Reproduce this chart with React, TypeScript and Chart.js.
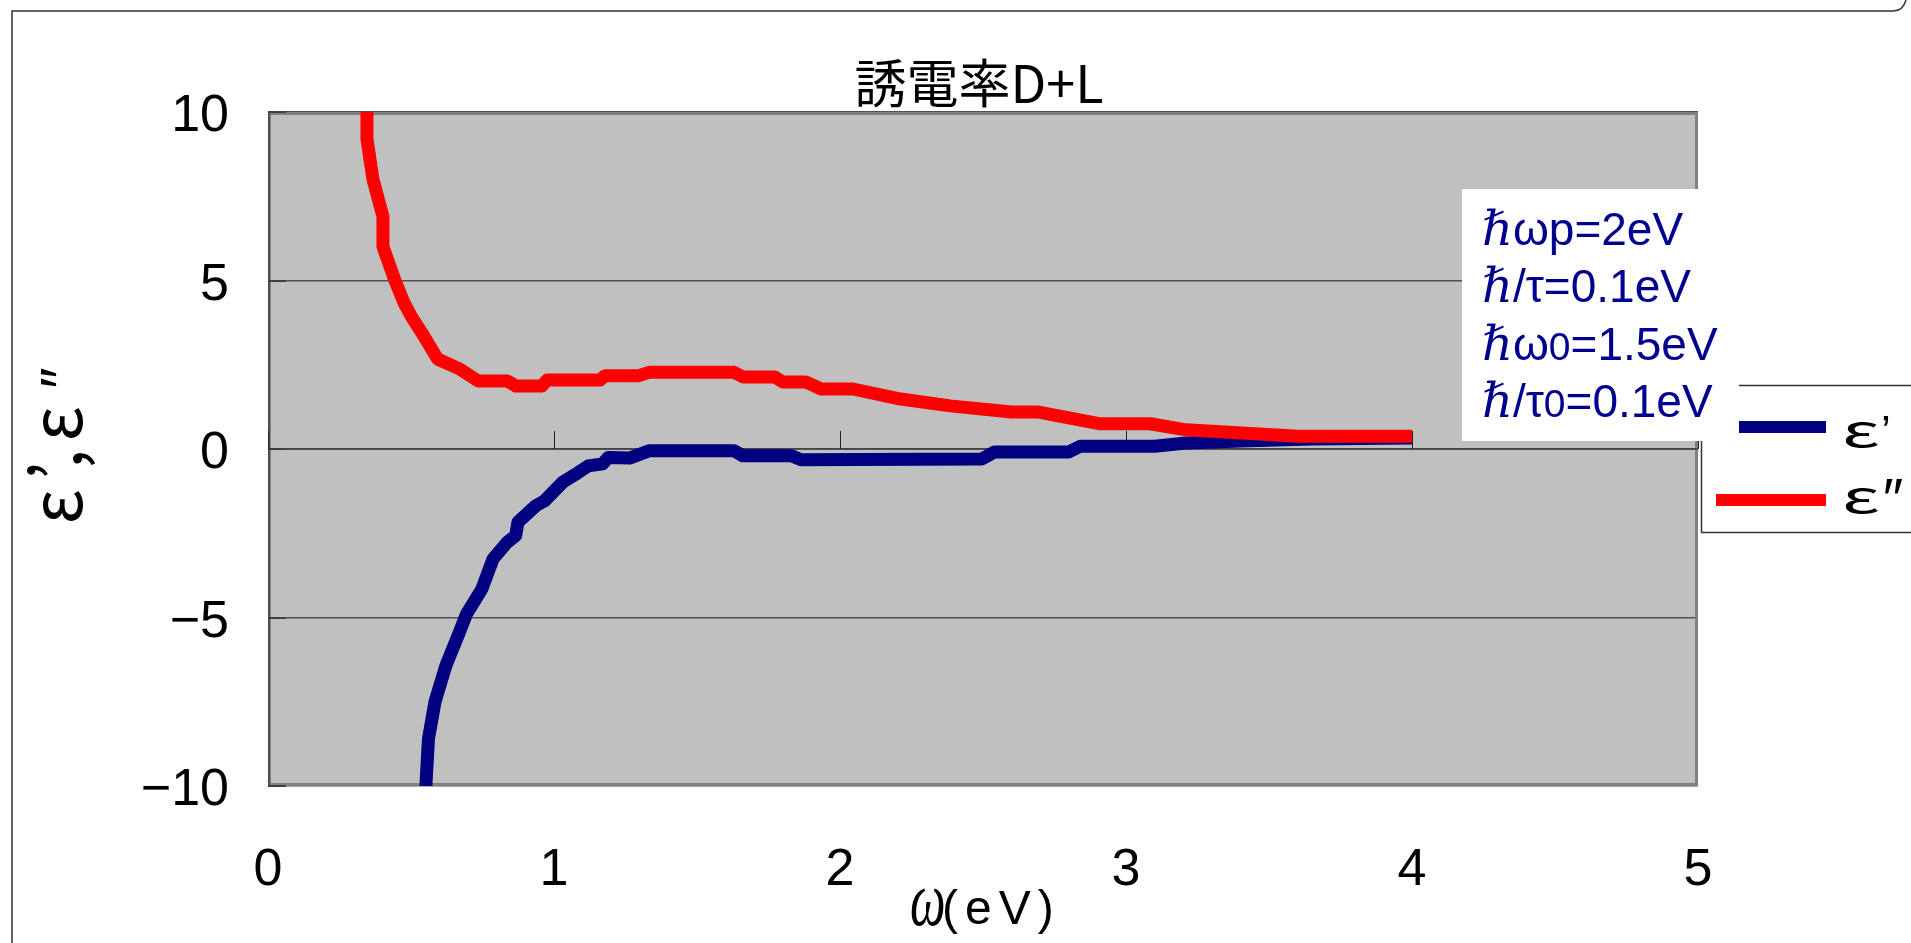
import React, { useEffect, useRef } from "react";
import { Chart, registerables } from "chart.js";

Chart.register(...registerables);

const W = 1911;
const H = 943;

const SANS = "'Liberation Sans', Arial, sans-serif";
const CJK = "'Noto Sans CJK JP', sans-serif";
const SERIF = "'Liberation Serif', 'DejaVu Serif', serif";

// ---- text ----
const chartTitle = "誘電率D+L";
const xTitleSymbol = "ω";
const xTitleUnit = "(eV)";
const yTitleParts = ["ε", "’", ",", "ε", "″"];
const legendSymbols = ["ε", "ε"];
const legendMarks = ["’", "″"];

// ---- axes ----
const xMin = 0;
const xMax = 5;
const xStep = 1;
const yMin = -10;
const yMax = 10;
const yStep = 5;

// ---- data: ε' (blue) ----
const epsRealX = [0.552, 0.561, 0.584, 0.622, 0.671, 0.694, 0.748, 0.787, 0.836, 0.866, 0.874, 0.937, 0.967, 1.03, 1.077, 1.12, 1.17, 1.19, 1.264, 1.334, 1.629, 1.66, 1.83, 1.864, 2.495, 2.54, 2.8, 2.84, 3.1, 3.21, 3.4, 3.65, 4.0];
const epsRealY = [-10, -8.6, -7.5, -6.43, -5.4, -4.9, -4.15, -3.26, -2.77, -2.57, -2.17, -1.68, -1.54, -0.99, -0.74, -0.5, -0.44, -0.25, -0.27, -0.05, -0.05, -0.2, -0.2, -0.32, -0.3, -0.09, -0.09, 0.08, 0.08, 0.18, 0.24, 0.3, 0.33];

// ---- data: ε'' (red) ----
const epsImagX = [0.346, 0.346, 0.367, 0.402, 0.402, 0.444, 0.475, 0.5, 0.545, 0.593, 0.671, 0.734, 0.836, 0.867, 0.958, 0.976, 1.161, 1.178, 1.294, 1.335, 1.629, 1.66, 1.772, 1.8, 1.88, 1.934, 2.045, 2.2, 2.385, 2.6, 2.69, 2.906, 3.084, 3.21, 3.6, 4.0];
const epsImagY = [10, 9.2, 8.0, 6.9, 6.0, 5.0, 4.35, 3.95, 3.35, 2.67, 2.37, 2.02, 2.02, 1.87, 1.87, 2.05, 2.05, 2.17, 2.17, 2.28, 2.28, 2.14, 2.14, 1.99, 1.99, 1.78, 1.78, 1.5, 1.28, 1.1, 1.1, 0.75, 0.75, 0.57, 0.38, 0.38];

// ---- parameter box (segment text, kind) ----
const paramLines: [string, string][][] = [
  [["ℏ", "h"], ["ωp=2eV", "t"]],
  [["ℏ", "h"], ["/τ=0.1eV", "t"]],
  [["ℏ", "h"], ["ω", "t"], ["0", "s"], ["=1.5eV", "t"]],
  [["ℏ", "h"], ["/τ", "t"], ["0", "s"], ["=0.1eV", "t"]],
];

const BLUE = "#000080";
const RED = "#ff0000";

const segFont: Record<string, string> = {
  h: `italic 48px ${SERIF}`,
  t: `46px ${SANS}`,
  s: `39px ${SANS}`,
};

const decor = {
  id: "decor",
  beforeDraw(chart: any) {
    const { ctx, chartArea: a } = chart;
    ctx.save();
    ctx.fillStyle = "#ffffff";
    ctx.fillRect(0, 0, W, H);
    ctx.strokeStyle = "#333333";
    ctx.lineWidth = 1.5;
    ctx.beginPath();
    ctx.moveTo(12, H);
    ctx.lineTo(12, 11);
    ctx.lineTo(1893, 11);
    ctx.quadraticCurveTo(1903, 11, 1906, 0);
    ctx.stroke();
    ctx.fillStyle = "#c0c0c0";
    ctx.fillRect(a.left, a.top, a.right - a.left, a.bottom - a.top);
    ctx.restore();
  },
  beforeDatasetsDraw(chart: any) {
    const { ctx, chartArea: a, scales } = chart;
    const xs = scales.x;
    const ys = scales.y;
    ctx.save();
    ctx.strokeStyle = "#808080";
    ctx.lineWidth = 3;
    ctx.strokeRect(a.left + 1.5, a.top + 1.5, a.right - a.left - 3, a.bottom - a.top - 3);
    ctx.strokeStyle = "#505050";
    ctx.lineWidth = 2;
    ctx.beginPath();
    ctx.moveTo(a.left + 1, a.top);
    ctx.lineTo(a.left + 1, a.bottom);
    ctx.stroke();
    ctx.strokeStyle = "#404040";
    ctx.lineWidth = 2;
    for (let v = yMin; v <= yMax; v += yStep) {
      const py = Math.round(ys.getPixelForValue(v));
      ctx.beginPath();
      ctx.moveTo(a.left, py);
      ctx.lineTo(a.left + 18, py);
      ctx.stroke();
    }
    const y0 = ys.getPixelForValue(0);
    ctx.strokeStyle = "#404040";
    ctx.lineWidth = 1.5;
    ctx.beginPath();
    ctx.moveTo(a.left, y0);
    ctx.lineTo(a.right, y0);
    ctx.stroke();
    ctx.strokeStyle = "#202020";
    ctx.lineWidth = 1;
    for (let v = xMin; v <= xMax; v += xStep) {
      const px = Math.round(xs.getPixelForValue(v)) + 0.5;
      ctx.beginPath();
      ctx.moveTo(px, y0 - 18);
      ctx.lineTo(px, y0);
      ctx.stroke();
    }
    ctx.restore();
  },
  afterDraw(chart: any) {
    const { ctx } = chart;
    ctx.save();
    ctx.fillStyle = "#000000";
    // title
    ctx.font = `52px ${CJK}`;
    ctx.textAlign = "center";
    ctx.textBaseline = "alphabetic";
    ctx.fillText(chartTitle, 979, 103);

    // x title
    ctx.textAlign = "left";
    ctx.save();
    ctx.translate(910, 925);
    ctx.scale(1.05, 1.65);
    ctx.font = `italic 48px ${SERIF}`;
    ctx.fillText(xTitleSymbol, 0, 0);
    ctx.restore();
    ctx.save();
    ctx.font = `48px ${SANS}`;
    (ctx as any).letterSpacing = "7px";
    ctx.fillText(xTitleUnit, 942, 924);
    ctx.restore();

    // y title (rotated, reading upward)
    const yPos = [507, 471, 459, 424, 381];
    ctx.save();
    ctx.translate(82, 0);
    ctx.rotate(-Math.PI / 2);
    ctx.textAlign = "center";
    yTitleParts.forEach((t, i) => {
      ctx.font = i === 4 ? `italic 60px ${SANS}` : `70px ${CJK}`;
      ctx.fillText(t, -yPos[i], 0);
    });
    ctx.restore();

    // legend
    ctx.fillStyle = "#ffffff";
    ctx.fillRect(1701, 385, 260, 147);
    ctx.strokeStyle = "#333333";
    ctx.lineWidth = 1.5;
    ctx.strokeRect(1701.5, 385.5, 260, 147);
    ctx.lineWidth = 12;
    ctx.strokeStyle = BLUE;
    ctx.beginPath();
    ctx.moveTo(1716, 427);
    ctx.lineTo(1826, 427);
    ctx.stroke();
    ctx.strokeStyle = RED;
    ctx.beginPath();
    ctx.moveTo(1716, 500);
    ctx.lineTo(1826, 500);
    ctx.stroke();
    ctx.fillStyle = "#000000";
    ctx.textAlign = "left";
    ctx.textBaseline = "alphabetic";
    const legBase = [447, 513];
    legendSymbols.forEach((t, i) => {
      ctx.save();
      ctx.translate(1842, legBase[i]);
      ctx.scale(1.7, 1);
      ctx.font = `44px ${CJK}`;
      ctx.fillText(t, 0, 0);
      ctx.restore();
    });
    ctx.font = `44px ${SANS}`;
    ctx.fillText(legendMarks[0], 1881, legBase[0]);
    ctx.font = `italic 58px ${SANS}`;
    ctx.fillText(legendMarks[1], 1880, legBase[1] + 6);

    // parameter box
    ctx.fillStyle = "#ffffff";
    ctx.fillRect(1462, 189, 277, 252);
    ctx.fillStyle = "#000090";
    const baselines = [245, 302, 360, 417];
    paramLines.forEach((segs, i) => {
      let x = 1482;
      for (const [t, k] of segs) {
        ctx.font = segFont[k];
        ctx.fillText(t, x, baselines[i]);
        x += ctx.measureText(t).width;
      }
    });
    ctx.restore();
  },
};

export default function App() {
  const ref = useRef<HTMLCanvasElement | null>(null);
  useEffect(() => {
    const canvas = ref.current;
    if (!canvas) return;
    const realPts = epsRealX.map((x, i) => ({ x, y: epsRealY[i] }));
    const imagPts = epsImagX.map((x, i) => ({ x, y: epsImagY[i] }));
    const chart = new Chart(canvas, {
      type: "line",
      data: {
        datasets: [
          {
            label: "ε″",
            data: imagPts,
            borderColor: RED,
            backgroundColor: RED,
            borderWidth: 13,
            pointRadius: 0,
            tension: 0,
            borderJoinStyle: "round",
            fill: false,
          },
          {
            label: "ε’",
            data: realPts,
            borderColor: BLUE,
            backgroundColor: BLUE,
            borderWidth: 13,
            pointRadius: 0,
            tension: 0,
            borderJoinStyle: "round",
            fill: false,
          },
        ],
      },
      options: {
        responsive: false,
        animation: false,
        devicePixelRatio: 1,
        parsing: false,
        layout: { padding: { top: 112, right: 213, bottom: 0, left: 0 } },
        plugins: {
          legend: { display: false },
          title: { display: false },
          tooltip: { enabled: false },
        },
        scales: {
          x: {
            type: "linear",
            min: xMin,
            max: xMax,
            grid: { display: false },
            border: { display: false },
            ticks: {
              stepSize: xStep,
              color: "#000000",
              font: { family: SANS, size: 52 },
              padding: 45,
              maxRotation: 0,
              autoSkip: false,
            },
            afterFit: (s: any) => {
              s.height = 157;
            },
          },
          y: {
            type: "linear",
            min: yMin,
            max: yMax,
            grid: { color: "#505050", lineWidth: 1.5, drawTicks: false },
            border: { display: false },
            ticks: {
              stepSize: yStep,
              color: "#000000",
              font: { family: SANS, size: 52 },
              padding: 39,
              labelOffset: 5,
              callback: (v: any) => (Number(v) < 0 ? "\u2212" + Math.abs(Number(v)) : String(v)),
            },
            afterFit: (s: any) => {
              s.width = 268;
            },
          },
        },
      },
      plugins: [decor],
    });
    return () => chart.destroy();
  }, []);
  return (
    <div style={{ position: "absolute", left: 0, top: 0, width: W, height: H }}>
      <canvas ref={ref} width={W} height={H} style={{ width: W, height: H, display: "block" }} />
    </div>
  );
}
